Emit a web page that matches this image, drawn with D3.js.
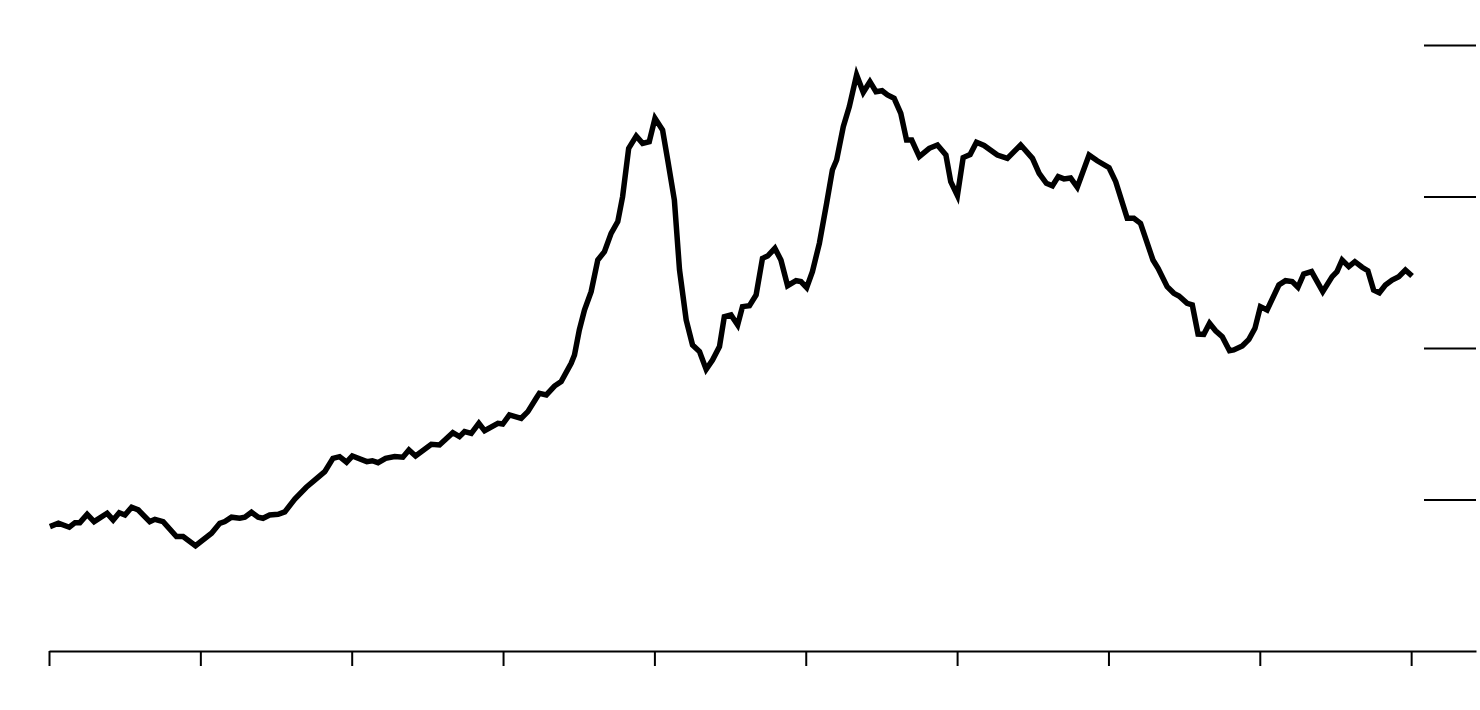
<!DOCTYPE html>
<html>
<head>
<meta charset="utf-8">
<script src="https://cdn.jsdelivr.net/npm/d3@7"></script>
<style>
  html, body { margin: 0; padding: 0; background: #fff; }
  svg { display: block; }
</style>
</head>
<body>
<svg id="chart" width="1480" height="710"></svg>
<script>
// Decimal years of each observation
const years = [
  1975.03,1975.31,1975.67,1975.86,1976.02,1976.26,1976.49,1976.92,1977.12,1977.32,
  1977.51,1977.73,1977.95,1978.33,1978.50,1978.77,1979.21,1979.43,1979.84,1980.37,
  1980.64,1980.81,1981.03,1981.30,1981.47,1981.69,1981.91,1982.07,1982.29,1982.57,
  1982.79,1983.12,1983.50,1983.72,1984.11,1984.38,1984.60,1984.83,1985.02,1985.50,
  1985.68,1985.87,1986.12,1986.42,1986.69,1986.89,1987.11,1987.63,1987.90,1988.34,
  1988.56,1988.73,1988.95,1989.20,1989.39,1989.83,1989.99,1990.21,1990.60,1990.82,
  1991.10,1991.20,1991.43,1991.70,1991.92,1992.25,1992.36,1992.52,1992.69,1992.91,
  1993.13,1993.35,1993.57,1993.79,1993.95,1994.15,1994.40,1994.61,1994.83,1995.02,
  1995.27,1995.44,1995.66,1995.83,1996.05,1996.26,1996.49,1996.71,1996.92,1997.15,
  1997.31,1997.53,1997.75,1997.91,1998.14,1998.36,1998.57,1998.74,1998.98,1999.18,
  1999.40,1999.68,1999.84,2000.03,2000.22,2000.45,2000.69,2000.88,2001.02,2001.24,
  2001.44,2001.68,2001.90,2002.12,2002.32,2002.52,2002.70,2002.92,2003.14,2003.33,
  2003.50,2003.75,2004.08,2004.35,2004.63,2004.79,2005.01,2005.20,2005.43,2005.64,
  2005.89,2006.33,2006.66,2007.10,2007.49,2007.71,2007.95,2008.15,2008.34,2008.53,
  2008.75,2008.97,2009.36,2009.63,2010.02,2010.24,2010.62,2010.84,2011.06,2011.47,
  2011.64,2011.94,2012.16,2012.33,2012.60,2012.77,2012.96,2013.15,2013.34,2013.54,
  2013.76,2014.00,2014.14,2014.42,2014.64,2014.84,2015.02,2015.24,2015.63,2015.85,
  2016.07,2016.26,2016.45,2016.71,2017.08,2017.39,2017.55,2017.72,2017.94,2018.14,
  2018.38,2018.57,2018.76,2018.95,2019.15,2019.37,2019.59,2019.81,2020.03
];

// Series values
const values = [
  82.1,84.3,81.7,84.7,84.7,90.2,85.4,90.9,86.5,91.3,
  89.8,94.9,93.1,85.4,86.9,85.4,75.5,75.5,69.5,77.7,
  84.3,85.4,88.3,87.6,88.3,91.6,88.3,87.6,89.8,90.2,
  91.8,100.3,108.1,111.8,118.4,127.2,128.3,124.6,128.7,125.0,
  125.6,124.3,127.2,128.3,127.9,132.7,128.7,136.4,136.0,144.1,
  141.5,144.8,143.7,150.3,145.4,150.3,149.8,155.8,153.6,158.0,
  167.0,170.1,169.0,174.9,177.8,189.9,195.4,211.9,225.1,237.2,
  258.1,263.6,275.7,283.4,299.9,331.8,339.9,335.1,336.2,351.6,
  343.9,324.1,297.7,251.5,218.5,202.0,197.6,185.9,192.1,200.9,
  220.7,221.8,215.2,227.3,227.9,235.0,259.2,260.7,265.8,258.1,
  241.1,244.4,243.8,239.8,250.4,269.1,295.5,317.5,324.1,346.1,
  359.3,380.2,368.8,375.8,369.2,369.8,367.0,364.8,354.9,337.3,
  337.3,326.3,331.8,334.0,327.4,309.8,300.7,325.7,327.7,335.8,
  333.7,327.4,325.2,334.0,325.2,315.3,308.7,307.1,313.1,311.6,
  312.2,306.1,327.4,323.6,319.0,309.8,285.6,285.6,282.3,258.1,
  252.6,240.5,236.1,234.3,229.5,228.4,209.2,209.0,216.3,211.4,
  207.5,198.2,198.7,201.3,205.7,213.0,227.3,225.1,241.6,244.4,
  243.8,240.1,248.8,250.4,237.2,247.1,250.4,258.1,253.7,257.0,
  253.3,251.0,238.3,236.5,241.6,244.9,247.1,251.5,247.5
];

// Tick values (no labels shown)
const xTicks = [1975, 1980, 1985, 1990, 1995, 2000, 2005, 2010, 2015, 2020];
const yTicks = [100, 200, 300, 400];

(function () {
  const svg = d3.select("#chart");
  const mLeft = 49, mRight = 1476, mTop = 45, mBottom = 651;

  const x = d3.scaleLinear()
    .domain([1975, 1975 + (mRight - mLeft) / 30.27])
    .range([mLeft, mRight]);
  const y = d3.scaleLinear()
    .domain([0, 400])
    .range([mBottom, mTop]);

  const data = years.map((t, i) => ({ t, v: values[i] }));

  // bottom axis
  const gx = svg.append("g")
    .attr("transform", `translate(0,${mBottom})`)
    .call(d3.axisBottom(x).tickValues(xTicks).tickSize(15).tickSizeOuter(0).tickFormat(""));
  gx.selectAll("path, line").attr("stroke", "#000").attr("stroke-width", 2);

  // right axis with inward ticks
  const gy = svg.append("g")
    .attr("transform", `translate(${mRight},0)`)
    .call(d3.axisRight(y).tickValues(yTicks).tickSize(-52).tickFormat(""));
  gy.select(".domain").remove();
  gy.selectAll("line").attr("stroke", "#000").attr("stroke-width", 2);

  // line
  const line = d3.line().x(d => x(d.t)).y(d => y(d.v));
  svg.append("path")
    .datum(data)
    .attr("fill", "none")
    .attr("stroke", "#000")
    .attr("stroke-width", 5.5)
    .attr("d", line);
})();
</script>
</body>
</html>
